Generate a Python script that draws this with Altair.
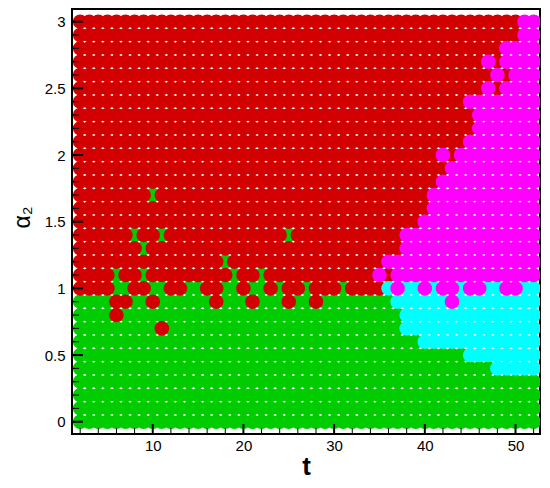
import altair as alt
import pandas as pd

# grid coordinates
t_values = list(range(2, 53))  # 51 columns, t = 2 .. 52
alpha_values = [3.0, 2.9, 2.8, 2.7, 2.6, 2.5, 2.4, 2.3, 2.2, 2.1, 2.0,
                1.9, 1.8, 1.7, 1.6, 1.5, 1.4, 1.3, 1.2, 1.1, 1.0,
                0.9, 0.8, 0.7, 0.6, 0.5, 0.4, 0.3, 0.2, 0.1, 0.0]

# class of each grid point (R red, G green, C cyan, M magenta)
# groups: t2-9 | t10-19 | t20-29 | t30-39 | t40-49 | t50-52
rows = [
    "RRRRRRRR RRRRRRRRRR RRRRRRRRRR RRRRRRRRRR RRRRRRRRRR RMM",  # 3.0
    "RRRRRRRR RRRRRRRRRR RRRRRRRRRR RRRRRRRRRR RRRRRRRRRR RMM",  # 2.9
    "RRRRRRRR RRRRRRRRRR RRRRRRRRRR RRRRRRRRRR RRRRRRRRRM MMM",  # 2.8
    "RRRRRRRR RRRRRRRRRR RRRRRRRRRR RRRRRRRRRR RRRRRRRMRM MMM",  # 2.7
    "RRRRRRRR RRRRRRRRRR RRRRRRRRRR RRRRRRRRRR RRRRRRRRMR MMM",  # 2.6
    "RRRRRRRR RRRRRRRRRR RRRRRRRRRR RRRRRRRRRR RRRRRRRMRM MMM",  # 2.5
    "RRRRRRRR RRRRRRRRRR RRRRRRRRRR RRRRRRRRRR RRRRRMMMMM MMM",  # 2.4
    "RRRRRRRR RRRRRRRRRR RRRRRRRRRR RRRRRRRRRR RRRRRRMMMM MMM",  # 2.3
    "RRRRRRRR RRRRRRRRRR RRRRRRRRRR RRRRRRRRRR RRRRRRMMMM MMM",  # 2.2
    "RRRRRRRR RRRRRRRRRR RRRRRRRRRR RRRRRRRRRR RRRRRMMMMM MMM",  # 2.1
    "RRRRRRRR RRRRRRRRRR RRRRRRRRRR RRRRRRRRRR RRMRMMMMMM MMM",  # 2.0
    "RRRRRRRR RRRRRRRRRR RRRRRRRRRR RRRRRRRRRR RRRMMMMMMM MMM",  # 1.9
    "RRRRRRRR RRRRRRRRRR RRRRRRRRRR RRRRRRRRRR RRMMMMMMMM MMM",  # 1.8
    "RRRRRRRR GRRRRRRRRR RRRRRRRRRR RRRRRRRRRR RMMMMMMMMM MMM",  # 1.7
    "RRRRRRRR RRRRRRRRRR RRRRRRRRRR RRRRRRRRRR RMMMMMMMMM MMM",  # 1.6
    "RRRRRRRR RRRRRRRRRR RRRRRRRRRR RRRRRRRRRR MMMMMMMMMM MMM",  # 1.5
    "RRRRRRGR RGRRRRRRRR RRRRRGRRRR RRRRRRRRMM MMMMMMMMMM MMM",  # 1.4
    "RRRRRRRG RRRRRRRRRR RRRRRRRRRR RRRRRRRRMM MMMMMMMMMM MMM",  # 1.3
    "RRRRRRRR RRRRRRRRGR RRRRRRRRRR RRRRRRMMMM MMMMMMMMMM MMM",  # 1.2
    "RRRRGRRG RRRRRRRRRG RRGRRRRRRR RRRRRMRMMM MMMMMMMMMM MMM",  # 1.1
    "RRRRGGRR GGRRGGRRGG RGGRGRRGRR RGRRRRCMCC MCMMCMMCCM MCC",  # 1.0
    "GGGGRRGG RGGGGGGRGG GRGGGRGGRG GGGGGGGCCC CCCMCCCCCC CCC",  # 0.9
    "GGGGRGGG GGGGGGGGGG GGGGGGGGGG GGGGGGGGCC CCCCCCCCCC CCC",  # 0.8
    "GGGGGGGG GRGGGGGGGG GGGGGGGGGG GGGGGGGGCC CCCCCCCCCC CCC",  # 0.7
    "GGGGGGGG GGGGGGGGGG GGGGGGGGGG GGGGGGGGGG CCCCCCCCCC CCC",  # 0.6
    "GGGGGGGG GGGGGGGGGG GGGGGGGGGG GGGGGGGGGG GGGGGCCCCC CCC",  # 0.5
    "GGGGGGGG GGGGGGGGGG GGGGGGGGGG GGGGGGGGGG GGGGGGGGCC CCC",  # 0.4
    "GGGGGGGG GGGGGGGGGG GGGGGGGGGG GGGGGGGGGG GGGGGGGGGG GGG",  # 0.3
    "GGGGGGGG GGGGGGGGGG GGGGGGGGGG GGGGGGGGGG GGGGGGGGGG GGG",  # 0.2
    "GGGGGGGG GGGGGGGGGG GGGGGGGGGG GGGGGGGGGG GGGGGGGGGG GGG",  # 0.1
    "GGGGGGGG GGGGGGGGGG GGGGGGGGGG GGGGGGGGGG GGGGGGGGGG GGG",  # 0.0
]

class_codes = ["G", "R", "C", "M"]          # drawing order, bottom to top
class_colors = ["#00cc00", "#d20000", "#00ffff", "#ff00ff"]

y_major = [0, 0.5, 1, 1.5, 2, 2.5, 3]
y_minor = [0.0, 0.1, 0.2, 0.3, 0.4, 0.5, 0.6, 0.7, 0.8, 0.9, 1.0, 1.1, 1.2, 1.3, 1.4, 1.5,
           1.6, 1.7, 1.8, 1.9, 2.0, 2.1, 2.2, 2.3, 2.4, 2.5, 2.6, 2.7, 2.8, 2.9, 3.0]
x_major = [10, 20, 30, 40, 50]
x_minor = [2, 4, 6, 8, 12, 14, 16, 18, 22, 24, 26, 28, 32, 34, 36, 38, 42, 44, 46, 48, 52]

records = []
for a, row in zip(alpha_values, rows):
    s = row.replace(" ", "")
    assert len(s) == len(t_values), (a, len(s))
    for t, ch in zip(t_values, s):
        records.append({"t": t, "alpha": a, "cls": ch, "rank": class_codes.index(ch)})
df = pd.DataFrame(records).sort_values("rank", kind="stable")

W, H = 468, 425
x_scale = alt.Scale(domain=[1.1, 52.7], nice=False, zero=False)
y_scale = alt.Scale(domain=[-0.092, 3.095], nice=False, zero=False)

x_axis = alt.Axis(values=x_major, format="d", title="t", titleFontSize=26,
                  titleFontWeight="bold", titleY=40, titleBaseline="alphabetic",
                  labelPadding=4)
y_axis = alt.Axis(values=y_major, format="~g", title="α₂", titleFontSize=23,
                  titleFontWeight="normal", titleAngle=270, titleX=-43, titleY=208,
                  titleAlign="center", titleBaseline="alphabetic", labelPadding=7)

points = alt.Chart(df).mark_circle(size=212, opacity=1, clip=True).encode(
    x=alt.X("t:Q", scale=x_scale, axis=x_axis),
    y=alt.Y("alpha:Q", scale=y_scale, axis=y_axis),
    color=alt.Color("cls:N", scale=alt.Scale(domain=class_codes, range=class_colors), legend=None),
    order=alt.Order("rank:Q"),
)

def yticks(vals, length, width):
    return alt.Chart(pd.DataFrame({"alpha": vals})).mark_rule(color="black", strokeWidth=width).encode(
        y=alt.Y("alpha:Q", scale=y_scale, axis=y_axis), x=alt.value(0), x2=alt.value(length))

def xticks(vals, length, width):
    return alt.Chart(pd.DataFrame({"t": vals})).mark_rule(color="black", strokeWidth=width).encode(
        x=alt.X("t:Q", scale=x_scale, axis=x_axis), y=alt.value(H), y2=alt.value(H - length))

chart = alt.layer(
    points,
    yticks(y_minor, 7, 1),
    yticks(y_major, 11, 2),
    xticks(x_minor, 6, 1),
    xticks(x_major, 10, 2),
).properties(
    width=W, height=H,
    autosize=alt.AutoSizeParams(type="none"),
    padding={"left": 64, "top": 1, "right": 1, "bottom": 46},
).configure_view(
    stroke="black", strokeWidth=2
).configure_axis(
    domain=False, ticks=False, grid=False,
    labelFont="Liberation Sans", labelFontSize=15, labelColor="black",
    titleFont="Liberation Sans", titleColor="black",
)

chart.save("out.html", embed_options={"renderer": "svg", "actions": False})
